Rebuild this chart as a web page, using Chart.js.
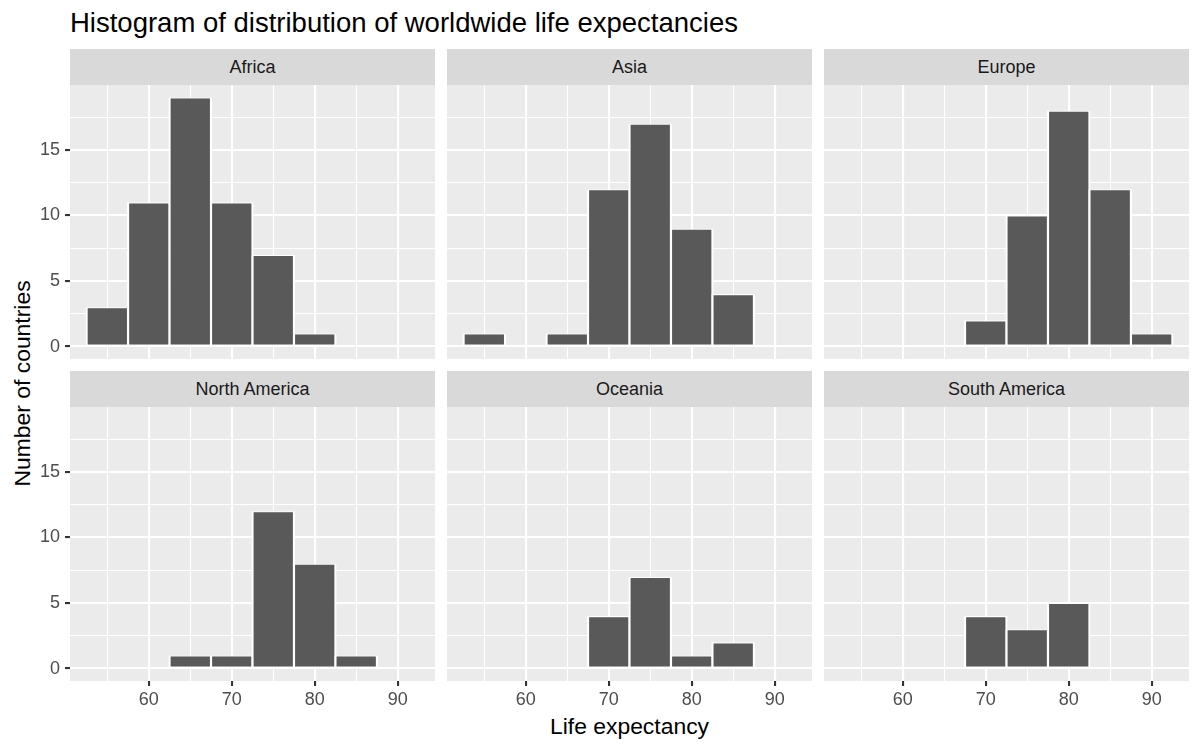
<!DOCTYPE html>
<html>
<head>
<meta charset="utf-8">
<script src="https://cdn.jsdelivr.net/npm/chart.js@4.4.1/dist/chart.umd.min.js"></script>
<style>
  html, body { margin: 0; padding: 0; background: #ffffff; }
  #root { position: relative; width: 1200px; height: 750px; overflow: hidden;
          font-family: "Liberation Sans", Arial, sans-serif; background: #ffffff; }
  .abs { position: absolute; white-space: nowrap; }
  .strip { background: #D9D9D9; color: #1A1A1A; font-size: 18px; text-align: center; }
  #title { left: 70px; top: 9px; font-size: 27.5px; line-height: 27.5px; color: #000000; }
  #xtitle { left: 70px; width: 1119px; top: 715px; font-size: 22.9px; line-height: 22.9px;
            text-align: center; color: #000000; }
  #ytitle { width: 400px; height: 22.9px; font-size: 22.9px; line-height: 22.9px; text-align: center;
            color: #000000; transform: rotate(-90deg); transform-origin: 50% 50%; }
  canvas { position: absolute; display: block; }
</style>
</head>
<body>
<div id="root">
  <div id="title" class="abs">Histogram of distribution of worldwide life expectancies</div>
  <div id="xtitle" class="abs">Life expectancy</div>
  <div id="ytitle" class="abs">Number of countries</div>
</div>
<script>
// ---------------- data ----------------
const binCentres   = [55, 60, 65, 70, 75, 80, 85, 90];
const africa       = [3, 11, 19, 11, 7, 1, 0, 0];
const asia         = [1, 0, 1, 12, 17, 9, 4, 0];
const europe       = [0, 0, 0, 2, 10, 18, 12, 1];
const northAmerica = [0, 0, 1, 1, 12, 8, 1, 0];
const oceania      = [0, 0, 0, 4, 7, 1, 2, 0];
const southAmerica = [0, 0, 0, 4, 3, 5, 0, 0];
const continents   = ['Africa', 'Asia', 'Europe', 'North America', 'Oceania', 'South America'];
const continentCounts = [africa, asia, europe, northAmerica, oceania, southAmerica];
const xTickLabels  = [60, 70, 80, 90];
const xMinorBreaks = [55, 65, 75, 85];
const yTickLabels  = [0, 5, 10, 15];
const yMinorBreaks = [2.5, 7.5, 12.5, 17.5];
const binWidth = 5;

// ---------------- scale limits (ggplot style 5% expansion) ----------------
const xLo = Math.min(...binCentres) - binWidth / 2;
const xHi = Math.max(...binCentres) + binWidth / 2;
const xPad = (xHi - xLo) * 0.05;
const xMin = xLo - xPad, xMax = xHi + xPad;
const yHi = Math.max(...continentCounts.map(a => Math.max(...a)));
const yPad = yHi * 0.05;
const yMin = 0 - yPad, yMax = yHi + yPad;

// ---------------- layout ----------------
const colLeft = [70, 447, 824];
const panelW = 365;
const stripTop = [49, 371];
const stripH = 36;
const panelTop = [85, 407];
const panelH = 274;
const yAxisW = 70;
const xAxisH = 40;
const outline = 2.2; // white bar outline width (centred on the bar edge, as in ggplot)
const binPx = panelW * binWidth / (xMax - xMin);
const barRatio = 1 + outline / binPx;

const FONT = '"Liberation Sans", Arial, sans-serif';
Chart.defaults.font.family = FONT;

const yt = document.getElementById('ytitle');
yt.style.left = (22 - 200) + 'px';
yt.style.top = ((panelTop[0] + panelTop[1] + panelH) / 2 - 22.9 / 2) + 'px';

const panelBg = {
  id: 'panelBg',
  beforeDraw(chart) {
    const { ctx, chartArea: a } = chart;
    ctx.save();
    ctx.fillStyle = '#EBEBEB';
    ctx.fillRect(a.left, a.top, a.right - a.left, a.bottom - a.top);
    ctx.restore();
  }
};

const root = document.getElementById('root');
const xGridValues = [...xTickLabels, ...xMinorBreaks].sort((a, b) => a - b);
const yGridValues = [...yTickLabels, ...yMinorBreaks].sort((a, b) => a - b);

continents.forEach((name, i) => {
  const r = Math.floor(i / 3), c = i % 3;
  const showY = c === 0, showX = r === 1;

  const strip = document.createElement('div');
  strip.className = 'abs strip';
  strip.style.left = colLeft[c] + 'px';
  strip.style.top = stripTop[r] + 'px';
  strip.style.width = panelW + 'px';
  strip.style.height = stripH + 'px';
  strip.style.lineHeight = stripH + 'px';
  strip.textContent = name;
  root.appendChild(strip);

  const cv = document.createElement('canvas');
  const w = panelW + (showY ? yAxisW : 0);
  const h = panelH + (showX ? xAxisH : 0);
  cv.width = w; cv.height = h;
  cv.style.width = w + 'px'; cv.style.height = h + 'px';
  cv.style.left = (colLeft[c] - (showY ? yAxisW : 0)) + 'px';
  cv.style.top = panelTop[r] + 'px';
  root.appendChild(cv);

  const counts = continentCounts[i];
  const points = binCentres.map((x, j) => ({ x: x, y: counts[j] })).filter(p => p.y > 0);

  const isMajX = v => xTickLabels.includes(v);
  const isMajY = v => yTickLabels.includes(v);

  new Chart(cv, {
    type: 'bar',
    data: {
      datasets: [{
        data: points,
        backgroundColor: '#595959',
        borderColor: '#FFFFFF',
        borderWidth: { top: outline / 2, bottom: outline / 2, left: outline, right: outline },
        borderSkipped: false,
        inflateAmount: 0,
        barPercentage: barRatio,
        categoryPercentage: 1
      }]
    },
    plugins: [panelBg],
    options: {
      responsive: false,
      animation: false,
      devicePixelRatio: 1,
      events: [],
      layout: { padding: 0, autoPadding: false },
      plugins: { legend: { display: false }, tooltip: { enabled: false }, title: { display: false } },
      scales: {
        x: {
          type: 'linear', position: 'bottom', min: xMin, max: xMax, bounds: 'data',
          offset: false,
          border: { display: false },
          grid: {
            offset: false,
            color: '#FFFFFF',
            lineWidth: ctx => (ctx.tick && isMajX(ctx.tick.value)) ? 2.1 : 1.05,
            drawTicks: showX,
            tickLength: 5,
            tickWidth: 2.1,
            tickColor: ctx => (ctx.tick && isMajX(ctx.tick.value)) ? '#333333' : 'rgba(0,0,0,0)'
          },
          ticks: {
            display: showX, autoSkip: false, maxRotation: 0, minRotation: 0, padding: 3,
            color: '#4D4D4D', font: { size: 18, family: FONT },
            callback: v => isMajX(v) ? String(v) : ''
          },
          afterBuildTicks: axis => { axis.ticks = xGridValues.map(v => ({ value: v })); },
          afterFit: axis => {
            axis.height = showX ? xAxisH : 0;
            axis.paddingLeft = 0; axis.paddingRight = 0; axis.paddingTop = 0; axis.paddingBottom = 0;
          }
        },
        y: {
          type: 'linear', position: 'left', min: yMin, max: yMax, bounds: 'data',
          border: { display: false },
          grid: {
            color: '#FFFFFF',
            lineWidth: ctx => (ctx.tick && isMajY(ctx.tick.value)) ? 2.1 : 1.05,
            drawTicks: showY,
            tickLength: 5,
            tickWidth: 2.1,
            tickColor: ctx => (ctx.tick && isMajY(ctx.tick.value)) ? '#333333' : 'rgba(0,0,0,0)'
          },
          ticks: {
            display: showY, autoSkip: false, padding: 5,
            color: '#4D4D4D', font: { size: 18, family: FONT },
            callback: v => isMajY(v) ? String(v) : ''
          },
          afterBuildTicks: axis => { axis.ticks = yGridValues.map(v => ({ value: v })); },
          afterFit: axis => {
            axis.width = showY ? yAxisW : 0;
            axis.paddingLeft = 0; axis.paddingRight = 0; axis.paddingTop = 0; axis.paddingBottom = 0;
          }
        }
      }
    }
  });
});
</script>
</body>
</html>
